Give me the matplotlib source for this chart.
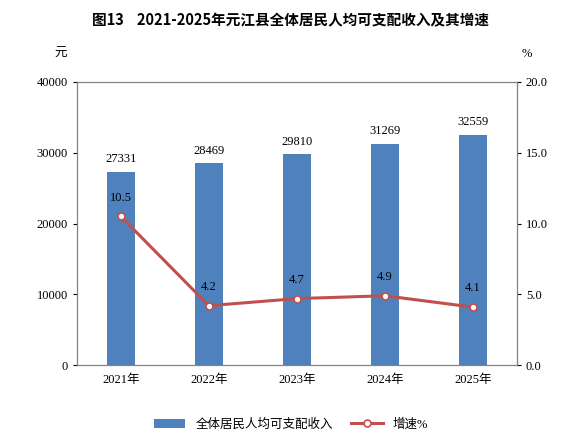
import matplotlib
matplotlib.use("Agg")
import matplotlib.pyplot as plt

plt.rcParams['font.family'] = ['Liberation Serif', 'Noto Sans CJK SC', 'DejaVu Sans']

years = ["2021年", "2022年", "2023年", "2024年", "2025年"]
income = [27331, 28469, 29810, 31269, 32559]
growth = [10.5, 4.2, 4.7, 4.9, 4.1]

fig = plt.figure(figsize=(5.82, 4.47), dpi=100)
ax = fig.add_axes([0.132, 0.183, 0.756, 0.634])
x = range(len(years))
ax.bar(x, income, width=0.32, color="#4F81BD", label="全体居民人均可支配收入", zorder=2)
ax.set_ylim(0, 40000)
ax.set_yticks(range(0, 40001, 10000))
ax.set_xlim(-0.5, 4.5)
ax.set_xticks(list(x))
ax.set_xticklabels(years, fontsize=9)
ax.tick_params(axis='y', labelsize=9, length=3)
ax.tick_params(axis='x', length=0, pad=6)
for i, v in zip(x, income):
    ax.text(i, v + 900, str(v), ha='center', va='bottom', fontsize=9)

ax2 = ax.twinx()
ax2.plot(list(x), growth, color="#C0504D", lw=2.2, marker='o', ms=5,
         mfc='white', mec="#C0504D", mew=1.2, label="增速%", zorder=3)
ax2.set_ylim(0, 20)
ax2.set_yticks([0, 5, 10, 15, 20])
ax2.set_yticklabels(["0.0", "5.0", "10.0", "15.0", "20.0"])
ax2.tick_params(axis='y', labelsize=9, length=3)
for i, v in zip(x, growth):
    ax2.text(i, v + 0.9, f"{v}", ha='center', va='bottom', fontsize=9)

for a in (ax, ax2):
    for s in a.spines.values():
        s.set_color("#808080")
        s.set_linewidth(0.8)

fig.text(0.5, 0.955, "图13    2021-2025年元江县全体居民人均可支配收入及其增速",
         ha='center', va='center', fontsize=10.5, fontweight='bold',
         family=['Noto Sans CJK SC', 'DejaVu Sans'])
fig.text(0.105, 0.88, "元", ha='center', va='center', fontsize=9)
fig.text(0.905, 0.88, "%", ha='center', va='center', fontsize=9)

h1, l1 = ax.get_legend_handles_labels()
h2, l2 = ax2.get_legend_handles_labels()
fig.legend(h1 + h2, l1 + l2, loc='center', bbox_to_anchor=(0.5, 0.05), ncol=2,
           frameon=False, fontsize=9, handlelength=2.5, columnspacing=1.5)

fig.savefig("out.png", dpi=100)
